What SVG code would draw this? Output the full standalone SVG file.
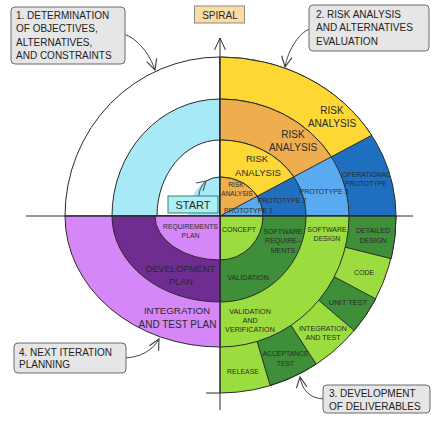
<svg xmlns="http://www.w3.org/2000/svg" width="438" height="421" viewBox="0 0 438 421">
<defs>
<style>
.seg{stroke:#2a2a2a;stroke-width:1;stroke-linejoin:round}
.nf{stroke:none}
.w{fill:#ffffff}.cy{fill:#a8e9f8}.ye{fill:#fdd835}.or{fill:#efae4e}
.db{fill:#1f6fc1}.lb{fill:#5aaaf2}.lg{fill:#9bdc3f}.dg{fill:#3f8e3a}
.lp{fill:#d687f7}.dp{fill:#6f2c91}
.ax{stroke:#2a2a2a;stroke-width:1;fill:none}
.cn{stroke:#444;stroke-width:1;fill:none}
.box{fill:#e6e6e6;stroke:#6a6a6a;stroke-width:1}
.t{font-family:"Liberation Sans",Arial,sans-serif;fill:#222}
.bt{font-size:10px}
.l{text-anchor:middle;fill:#2a2a2a}
</style>
<marker id="ah" markerUnits="userSpaceOnUse" markerWidth="14" markerHeight="14" viewBox="-10 -6 12 12" refX="0" refY="0" orient="auto">
<path d="M-9,-4.5 L0,0 L-9,4.5" fill="none" stroke="#444" stroke-width="1"/>
</marker>
</defs>

<g id="q1-objectives">
<path class="seg w" d="M220,216 L65,216 A155 159 0 0 1 220,57 Z"/>
<path class="seg cy" d="M220,216 L112,216 A108 117 0 0 1 220,99 Z"/>
<path class="seg w" d="M220,216 L157,216 A63 76 0 0 1 220,140 Z"/>
<path class="nf cy" d="M220,216 L188,216 A32 39 0 0 1 220,177 Z"/>
<path class="ax" d="M206,181 A32 39 0 0 1 220,177"/>
</g>

<g id="q2-risk">
<path class="seg db" d="M220,216 L396,216 A176 159 0 0 0 220,57 Z"/>
<path class="seg ye" d="M220,216 L371.7,135.3 A176 159 0 0 0 220,57 Z"/>
<path class="seg lb" d="M220,216 L349,216 A129 117 0 0 0 220,99 Z"/>
<path class="seg or" d="M220,216 L331.3,156.8 A129 117 0 0 0 220,99 Z"/>
<path class="seg db" d="M220,216 L306,216 A86 76 0 0 0 220,140 Z"/>
<path class="seg ye" d="M220,216 L293.7,176.8 A86 76 0 0 0 220,140 Z"/>
<path class="seg lb" d="M220,216 L263,216 A43 39 0 0 0 220,177 Z"/>
<path class="seg or" d="M220,216 L257.1,196.3 A43 39 0 0 0 220,177 Z"/>
</g>

<g id="q3-development">
<path class="seg lg" d="M220,216 L396,216 A176 177 0 0 1 220,393 Z"/>
<path class="seg dg" d="M220,216 L396,216 A176 177 0 0 1 391.3,258.7 Z"/>
<path class="seg dg" d="M220,216 L375.8,298.9 A176 177 0 0 1 354.2,330.6 Z"/>
<path class="seg dg" d="M220,216 L316.1,364 A176 177 0 0 1 270.1,385.3 Z"/>
<path class="seg lg" d="M220,216 L349,216 A129 131 0 0 1 220,347 Z"/>
<path class="seg dg" d="M220,216 L306,216 A86 86 0 0 1 220,302 Z"/>
<path class="seg lg" d="M220,216 L263,216 A43 44 0 0 1 220,260 Z"/>
</g>

<g id="q4-planning">
<path class="seg lp" d="M220,216 L65,216 A155 131 0 0 0 220,347 Z"/>
<path class="seg dp" d="M220,216 L112,216 A108 86 0 0 0 220,302 Z"/>
<path class="seg lp" d="M220,216 L155,216 A65 44 0 0 0 220,260 Z"/>
</g>

<g id="axes">
<line class="ax" x1="26" y1="216" x2="413" y2="216"/>
<line class="ax" x1="220" y1="410" x2="220" y2="38"/>
<path class="ax" d="M214.5,50 L220,38 L225.5,50"/>
<line class="ax" x1="206" y1="393" x2="220" y2="393"/>
</g>

<g id="labels" class="t">
<text class="l" x="332" y="113.6" font-size="10">RISK</text>
<text class="l" x="332" y="126.6" font-size="10">ANALYSIS</text>
<text class="l" x="293" y="137.6" font-size="10">RISK</text>
<text class="l" x="293" y="150.6" font-size="10">ANALYSIS</text>
<text class="l" x="257" y="162.4" font-size="9.5">RISK</text>
<text class="l" x="258" y="176" font-size="9.5">ANALYSIS</text>
<text class="l" x="236" y="187.3" font-size="6.5">RISK</text>
<text class="l" x="237" y="196.3" font-size="6.5">ANALYSIS</text>
<text class="l" x="248.5" y="212.5" font-size="7">PROTOTYPE 1</text>
<text class="l" x="282" y="202.5" font-size="7">PROTOTYPE 2</text>
<text class="l" x="324" y="193.5" font-size="7">PROTOTYPE 3</text>
<text class="l" x="366" y="177.4" font-size="6.8">OPERATIONAL</text>
<text class="l" x="366" y="186.4" font-size="6.8">PROTOTYPE</text>

<text class="l" x="239" y="231.5" font-size="7">CONCEPT</text>
<text class="l" x="283" y="234.3" font-size="7">SOFTWARE</text>
<text class="l" x="283" y="243.3" font-size="7">REQUIRE–</text>
<text class="l" x="283" y="252.5" font-size="7">MENTS</text>
<text class="l" x="248" y="279.6" font-size="7.2">VALIDATION</text>
<text class="l" x="327" y="231.5" font-size="7">SOFTWARE</text>
<text class="l" x="327" y="240.5" font-size="7">DESIGN</text>
<text class="l" x="373" y="232.5" font-size="7.1">DETAILED</text>
<text class="l" x="373" y="242.5" font-size="7.1">DESIGN</text>
<text class="l" x="364" y="274.5" font-size="7">CODE</text>
<text class="l" x="348" y="304.6" font-size="7.5">UNIT TEST</text>
<text class="l" x="250" y="313.5" font-size="7.2">VALIDATION</text>
<text class="l" x="250" y="322.5" font-size="7.2">AND</text>
<text class="l" x="250" y="331.5" font-size="7.2">VERIFICATION</text>
<text class="l" x="323" y="330.8" font-size="7.1">INTEGRATION</text>
<text class="l" x="323" y="340.3" font-size="7.1">AND TEST</text>
<text class="l" x="285.5" y="356.4" font-size="6.8">ACCEPTANCE</text>
<text class="l" x="285.5" y="366.4" font-size="6.8">TEST</text>
<text class="l" x="243" y="373.5" font-size="6.9">RELEASE</text>

<text class="l" x="190.5" y="228.5" font-size="6.8">REQUIREMENTS</text>
<text class="l" x="190.5" y="237.5" font-size="6.8">PLAN</text>
<text class="l" x="180.5" y="271.6" font-size="9.2">DEVELOPMENT</text>
<text class="l" x="181" y="285" font-size="9.2">PLAN</text>
<text class="l" x="177" y="313.6" font-size="9.8">INTEGRATION</text>
<text class="l" x="177.5" y="327.6" font-size="10">AND TEST PLAN</text>
</g>

<g id="connectors">
<path class="cn" d="M199,196 C199,190 202,185 206,181"/>
<path class="cn" d="M196,183 L206,181 L203,191"/>
<circle cx="123" cy="34" r="1.3" fill="#444"/>
<path class="cn" d="M123,34 C138,38 150,55 155,70" marker-end="url(#ah)"/>
<circle cx="313" cy="28" r="1.3" fill="#444"/>
<path class="cn" d="M313,28 C300,30 288,50 285,67" marker-end="url(#ah)"/>
<circle cx="123" cy="358" r="1.3" fill="#444"/>
<path class="cn" d="M123,358 C140,358 153,350 159,339" marker-end="url(#ah)"/>
<circle cx="325" cy="399" r="1.3" fill="#444"/>
<path class="cn" d="M325,399 C310,399 302,390 300,377" marker-end="url(#ah)"/>
</g>

<g id="spiral-title">
<rect x="194.5" y="6" width="50" height="17" fill="#fcdca5" stroke="#8a8a8a"/>
<text class="t l" x="220" y="18.6" font-size="10">SPIRAL</text>
</g>

<g id="start">
<rect x="168" y="196" width="50" height="17" fill="#aaf0f4" stroke="#3d7a7a"/>
<text class="t l" x="193" y="208.9" font-size="11">START</text>
</g>

<g id="box1">
<rect class="box" x="11" y="7" width="114" height="57" rx="4"/>
<text class="t bt" x="16" y="18.6">1. DETERMINATION</text>
<text class="t bt" x="16" y="32.1">OF OBJECTIVES,</text>
<text class="t bt" x="16" y="45.6">ALTERNATIVES,</text>
<text class="t bt" x="16" y="59.1">AND CONSTRAINTS</text>
</g>

<g id="box2">
<rect class="box" x="309" y="5" width="120" height="46" rx="4"/>
<text class="t bt" x="316" y="17.6">2. RISK ANALYSIS</text>
<text class="t bt" x="316" y="31.1">AND ALTERNATIVES</text>
<text class="t bt" x="316" y="44.6">EVALUATION</text>
</g>

<g id="box3">
<rect class="box" x="323" y="385" width="107" height="28" rx="4"/>
<text class="t bt" x="329" y="396.6">3. DEVELOPMENT</text>
<text class="t bt" x="329" y="410.3">OF DELIVERABLES</text>
</g>

<g id="box4">
<rect class="box" x="14" y="343" width="112" height="30" rx="4"/>
<text class="t bt" x="19" y="355.6">4. NEXT ITERATION</text>
<text class="t bt" x="19" y="367.6">PLANNING</text>
</g>
</svg>
